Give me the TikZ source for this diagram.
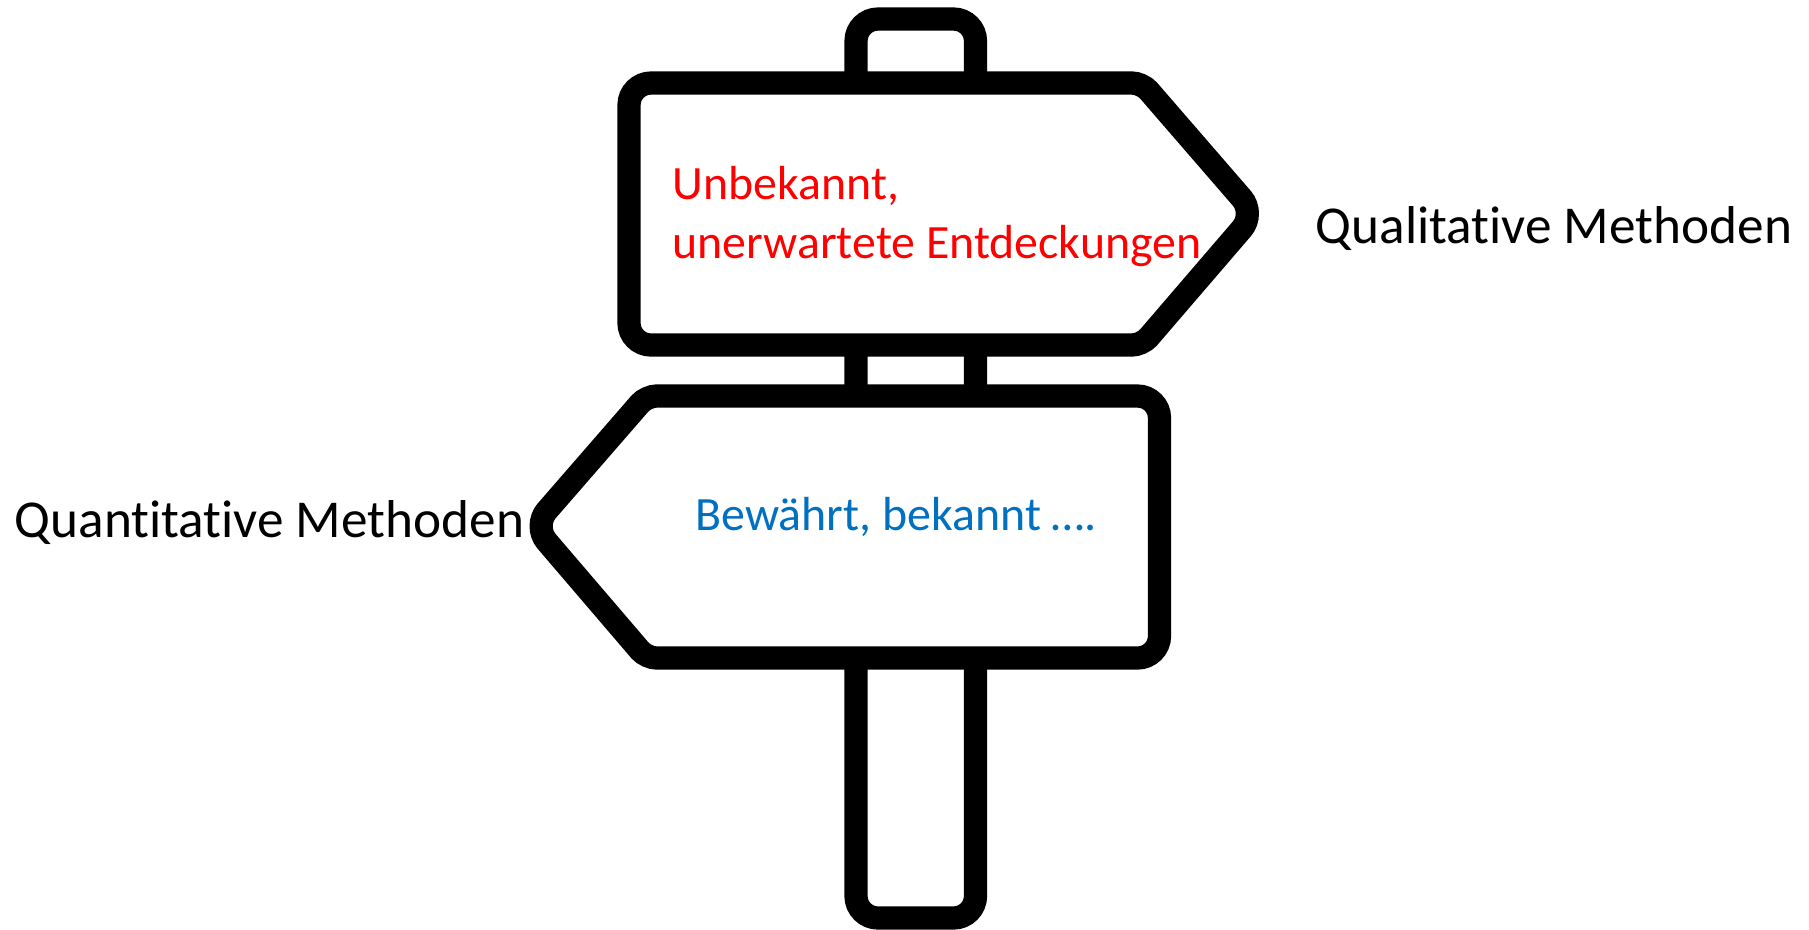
\documentclass[tikz,border=0pt]{standalone}
\usepackage{fontspec}
\setmainfont[Ligatures=CommonOff]{Carlito}
\definecolor{unbekanntred}{HTML}{FF0000}
\definecolor{bewaehrtblue}{HTML}{0070C0}
\tikzset{
	signline/.style={draw=black,line width=6.6pt,fill=white,rounded corners=0.22cm},
	shoulder/.style={rounded corners=0.1cm},
	signtip/.style={rounded corners=0.2cm},
	signtext/.style={anchor=base west,inner sep=0pt,font=\fontsize{15.15}{18}\selectfont},
	coloredtext/.style={signtext,align=left,font=\fontsize{13.6}{16.5}\selectfont},
}
\begin{document}
\begin{tikzpicture}[x=0.01cm,y=0.01cm]
	\useasboundingbox (0,0) rectangle (1809,-929);
	\draw [signline] (856,-19) rectangle (975.5,-918);
	\draw [signline] (629,-83) [shoulder] -- (1142,-83) [signtip] -- (1255,-213.5) [shoulder] -- (1142,-345) [signline] -- (629,-345) -- cycle;
	\draw [signline] (1159.5,-396) [shoulder] -- (646.5,-396) [signtip] -- (533.5,-526) [shoulder] -- (646.5,-658) [signline] -- (1159.5,-658) -- cycle;
	\node [coloredtext,text=unbekanntred] (unbekannt) at (672,-258) {Unbekannt,\\unerwartete Entdeckungen};
	\node [coloredtext,text=bewaehrtblue] (bewaehrt) at (695,-530) {Bewährt, bekannt ….};
	\node [signtext] (qualitativ) at (1315,-243) {Qualitative Methoden};
	\node [signtext] (quantitativ) at (14,-537) {Quantitative Methoden};
\end{tikzpicture}
\end{document}
